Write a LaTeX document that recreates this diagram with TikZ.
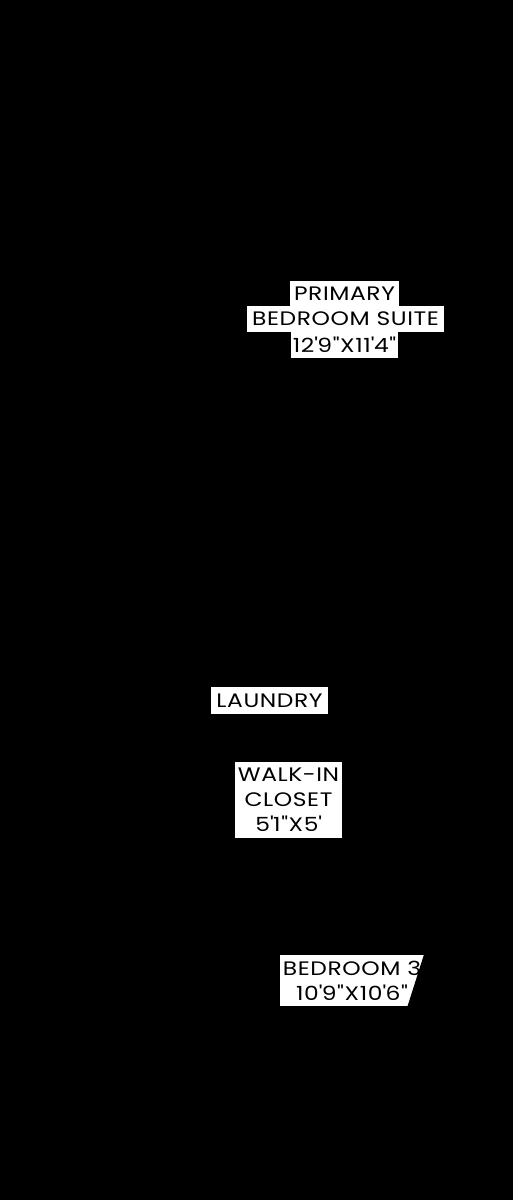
\documentclass[tikz,border=0pt]{standalone}
\usepackage{fontspec}
\newfontfamily\roomfont{Poppins}[FakeStretch=1.2, LetterSpace=3]
\tikzset{
	roomlabel/.style={fill=white, text=black, inner sep=0pt, font=\roomfont\fontsize{19.5}{25}\selectfont, align=center},
	labelline/.style={roomlabel, minimum height=26pt}
}

\begin{document}
\begin{tikzpicture}[x=1pt, y=-1pt]

	% background
	\fill[black] (0,0) rectangle (513,1200);
	\useasboundingbox (0,0) rectangle (513,1200);

	% primary bedroom
	\node[labelline, minimum width=109pt] (primary) at (344.5,293.5) {PRIMARY};
	\node[labelline, minimum width=197pt] (primarybed) at (345.5,319) {BEDROOM SUITE};
	\node[labelline, minimum width=107pt] (primarysize) at (344.5,345) {12\textquotesingle9"X11\textquotesingle4"};

	% laundry
	\node[labelline, minimum width=117pt, minimum height=27pt] (laundry) at (269.5,700.5) {LAUNDRY};

	% walk-in closet
	\node[roomlabel, minimum width=107pt, minimum height=76pt] (closet) at (288.5,800) {WALK-IN\\CLOSET\\5\textquotesingle1"X5\textquotesingle};

	% bedroom 3, cut by the wall on the right
	\node[roomlabel, minimum width=144pt, minimum height=51pt] (bedthree) at (352,980.5) {BEDROOM 3\\10\textquotesingle9"X10\textquotesingle6"};
	\fill[black] ([shift={(1,-1)}]bedthree.north east) -- ([shift={(1,1)}]bedthree.south east) -- ([shift={(-17,1)}]bedthree.south east) -- ([shift={(0,-1)}]bedthree.north east) -- cycle;

\end{tikzpicture}
\end{document}
